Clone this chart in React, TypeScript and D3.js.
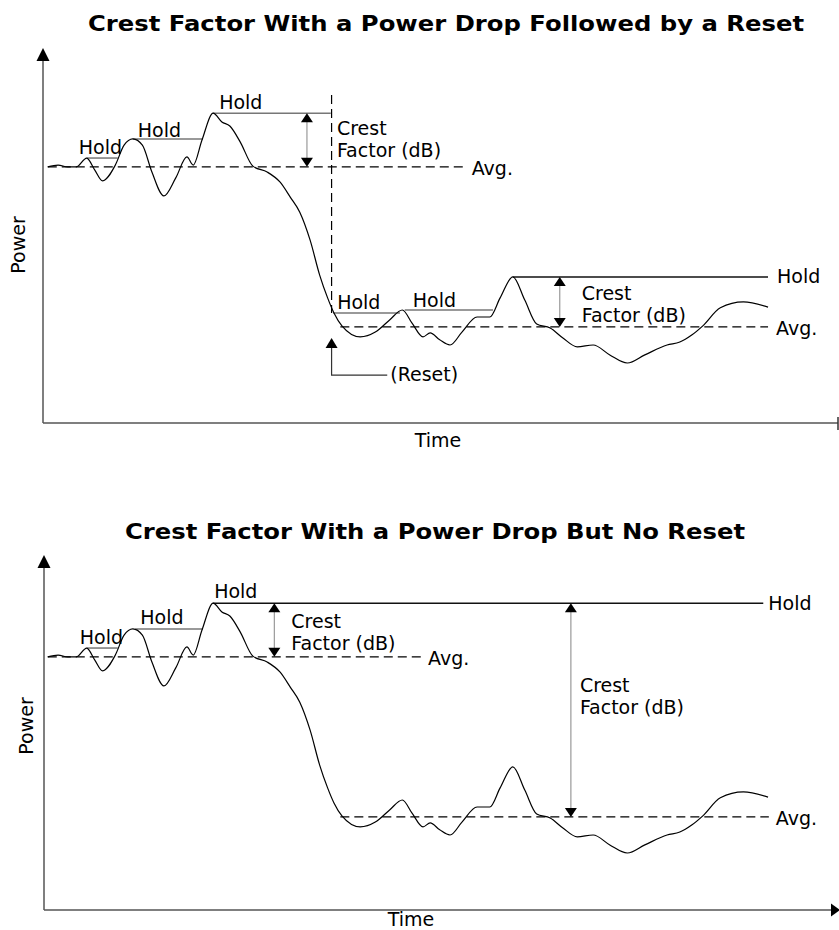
import * as d3 from "d3";

// waveform samples (time units 0-100, power units 0-100)
const waveTime = [
  0.6, 1.9, 3.1, 4.2, 5.5, 6.5, 7.5, 9.1, 10.2, 11.3, 12.5, 13.7, 15.2, 16.7,
  18.1, 18.9, 20.0, 21.4, 22.5, 23.5, 24.8, 26.4, 28.2, 29.8, 31.1, 32.3, 33.6,
  34.8, 35.8, 36.6, 37.6, 39.9, 41.8, 43.6, 45.2, 46.4, 47.8, 48.7, 49.9, 51.2,
  52.7, 54.6, 56.2, 57.5, 59.1, 60.6, 62.1, 63.8, 65.4, 67.2, 69.2, 71.3, 73.5,
  75.7, 78.5, 80.1, 81.6, 83.0, 85.2, 88.1, 91.2,
];
const wavePower = [
  69.6, 70.1, 69.6, 69.6, 72.0, 68.8, 65.8, 70.1, 75.5, 77.2, 75.5, 68.2, 61.7,
  66.6, 72.3, 70.1, 76.9, 84.2, 81.8, 80.7, 76.4, 69.8, 68.2, 65.5, 61.4, 57.3,
  49.7, 40.2, 34.0, 29.9, 26.4, 23.4, 24.7, 28.0, 30.7, 27.2, 23.4, 24.5, 22.6,
  21.2, 24.7, 28.8, 28.8, 34.0, 39.7, 33.4, 26.9, 25.8, 23.1, 20.7, 21.2, 18.5,
  16.3, 18.5, 21.2, 22.0, 23.9, 26.4, 31.3, 32.9, 31.5,
];

const avgHigh = 69.6;
const avgLow = 26.1;

// chart 1: with reset
const topHoldStart = [5.5, 11.3, 21.4, 36.5, 45.5, 59.1];
const topHoldEnd = [9.4, 20.1, 36.2, 44.9, 56.6, 91.2];
const topHoldLevel = [72.0, 77.2, 84.2, 29.9, 30.7, 39.7];
const topAvgFrom = [0.6, 37.4];
const topAvgTo = [53.3, 91.2];
const topAvgLevel = [avgHigh, avgLow];
const topCrestTime = [33.2, 65.0];
const topCrestHi = [84.2, 39.7];
const topCrestLo = [avgHigh, avgLow];
const resetTime = 36.3;
const resetLineTop = 89.1;
const resetArrowTip = 23.1;
const resetElbow = 13.0;
const resetLabelTime = 43.3;

// chart 2: no reset
const botHoldStart = [5.5, 11.6, 21.4];
const botHoldEnd = [9.4, 20.1, 90.6];
const botHoldLevel = [72.0, 77.2, 84.2];
const botAvgFrom = [0.6, 37.4];
const botAvgTo = [47.8, 91.3];
const botAvgLevel = [avgHigh, avgLow];
const botCrestTime = [29.1, 66.4];
const botCrestHi = [84.2, 84.2];
const botCrestLo = [avgHigh, avgLow];

const FONT = "DejaVu Sans";
const FS = 19;

const x = d3.scaleLinear([0, 100], [43, 838]);

const charts = [
  {
    title: "Crest Factor With a Power Drop Followed by a Reset",
    titleX: 88,
    titleY: 31,
    titleLen: 716,
    yRange: [423, 55],
    axisX: 43,
    axisY: 423,
    axisTop: 48,
    powerX: 25,
    powerY: 245,
    timeX: 438,
    timeY: 447,
    endArrow: false,
    hold: { start: topHoldStart, end: topHoldEnd, level: topHoldLevel },
    holdLabels: [
      { i: 0, at: "start", dx: -8, dy: -4 },
      { i: 1, at: "start", dx: 5, dy: -2 },
      { i: 2, at: "start", dx: 6, dy: -4 },
      { i: 3, at: "start", dx: 4, dy: -4 },
      { i: 4, at: "start", dx: 8, dy: -3 },
      { i: 5, at: "end", dx: 9, dy: 6 },
    ],
    avg: { from: topAvgFrom, to: topAvgTo, level: topAvgLevel },
    avgLabelDx: [5, 8],
    crest: { time: topCrestTime, hi: topCrestHi, lo: topCrestLo },
    crestLabels: [
      { dx: 30, dy: 22 },
      { dx: 22, dy: 23 },
    ],
    reset: true,
  },
  {
    title: "Crest Factor With a Power Drop But No Reset",
    titleX: 125,
    titleY: 539,
    titleLen: 620,
    yRange: [913, 545],
    axisX: 44,
    axisY: 910,
    axisTop: 555,
    powerX: 33,
    powerY: 726,
    timeX: 411,
    timeY: 926,
    endArrow: true,
    hold: { start: botHoldStart, end: botHoldEnd, level: botHoldLevel },
    holdLabels: [
      { i: 0, at: "start", dx: -7, dy: -4 },
      { i: 1, at: "start", dx: 5, dy: -5 },
      { i: 2, at: "start", dx: 1, dy: -5 },
      { i: 2, at: "end", dx: 5, dy: 7 },
    ],
    avg: { from: botAvgFrom, to: botAvgTo, level: botAvgLevel },
    avgLabelDx: [5, 7],
    crest: { time: botCrestTime, hi: botCrestHi, lo: botCrestLo },
    crestLabels: [
      { dx: 17, dy: 25 },
      { dx: 9, dy: 89 },
    ],
    reset: false,
  },
];

function triUp(cx: number, tip: number, w = 12, h = 9) {
  return `M${cx},${tip}L${cx - w / 2},${tip + h}L${cx + w / 2},${tip + h}Z`;
}
function triDown(cx: number, tip: number, w = 12, h = 9) {
  return `M${cx},${tip}L${cx - w / 2},${tip - h}L${cx + w / 2},${tip - h}Z`;
}

function Chart({ c }: { c: (typeof charts)[number] }) {
  const y = d3.scaleLinear([0, 100], c.yRange);
  const line = d3
    .line<number>()
    .x((_, i) => x(waveTime[i]))
    .y((_, i) => y(wavePower[i]))
    .curve(d3.curveMonotoneX);
  const nHold = c.hold.start.length;
  const txt = { fontFamily: FONT, fontSize: FS, fill: "#000" } as const;

  return (
    <g>
      <text
        x={c.titleX}
        y={c.titleY}
        textLength={c.titleLen}
        lengthAdjust="spacingAndGlyphs"
        fontFamily={FONT}
        fontWeight="bold"
        fontSize={21}
      >
        {c.title}
      </text>

      {/* axes */}
      <line x1={c.axisX} x2={c.axisX} y1={c.axisTop + 10} y2={c.axisY} stroke="#555" strokeWidth={1.5} />
      <path d={triUp(c.axisX, c.axisTop, 13, 13)} fill="#000" />
      <line x1={c.axisX} x2={c.endArrow ? 832 : 838} y1={c.axisY} y2={c.axisY} stroke="#555" strokeWidth={1.5} />
      {c.endArrow ? (
        <path d={`M840,${c.axisY}L831,${c.axisY - 6.5}L831,${c.axisY + 6.5}Z`} fill="#000" />
      ) : (
        <line x1={838} x2={838} y1={c.axisY - 6} y2={c.axisY + 7} stroke="#333" strokeWidth={1.5} />
      )}
      <text {...txt} transform={`translate(${c.powerX},${c.powerY}) rotate(-90)`} textAnchor="middle">
        Power
      </text>
      <text {...txt} x={c.timeX} y={c.timeY} textAnchor="middle">
        Time
      </text>

      {/* average lines */}
      {c.avg.level.map((lv, i) => (
        <g key={"a" + i}>
          <line
            x1={x(c.avg.from[i])}
            x2={x(c.avg.to[i])}
            y1={y(lv)}
            y2={y(lv)}
            stroke="#000"
            strokeWidth={1.2}
            strokeDasharray="9,5"
          />
          <text {...txt} x={x(c.avg.to[i]) + c.avgLabelDx[i]} y={y(lv) + 8}>
            Avg.
          </text>
        </g>
      ))}

      {/* reset marker */}
      {c.reset && (
        <g>
          <line
            x1={x(resetTime)}
            x2={x(resetTime)}
            y1={y(resetLineTop)}
            y2={y(topHoldLevel[3])}
            stroke="#000"
            strokeWidth={1.2}
            strokeDasharray="9,5"
          />
          <path d={triUp(x(resetTime), y(resetArrowTip), 12, 10)} fill="#000" />
          <polyline
            points={`${x(resetTime)},${y(resetArrowTip) + 10} ${x(resetTime)},${y(resetElbow)} ${x(resetLabelTime)},${y(resetElbow)}`}
            fill="none"
            stroke="#333"
            strokeWidth={1.2}
          />
          <text {...txt} x={x(resetLabelTime) + 3} y={y(resetElbow) + 6}>
            (Reset)
          </text>
        </g>
      )}

      {/* hold lines */}
      {c.hold.level.map((lv, i) => (
        <line
          key={"h" + i}
          x1={x(c.hold.start[i])}
          x2={x(c.hold.end[i])}
          y1={y(lv)}
          y2={y(lv)}
          stroke={i === nHold - 1 ? "#111" : "#777"}
          strokeWidth={1.5}
        />
      ))}
      {c.holdLabels.map((h, k) => (
        <text
          key={"hl" + k}
          {...txt}
          x={x(h.at === "start" ? c.hold.start[h.i] : c.hold.end[h.i]) + h.dx}
          y={y(c.hold.level[h.i]) + h.dy}
        >
          Hold
        </text>
      ))}

      {/* crest factor arrows */}
      {c.crest.time.map((t, i) => {
        const cx = x(t);
        const top = y(c.crest.hi[i]);
        const bot = y(c.crest.lo[i]);
        const lab = c.crestLabels[i];
        return (
          <g key={"c" + i}>
            <line x1={cx} x2={cx} y1={top + 8} y2={bot - 8} stroke="#999" strokeWidth={1.2} />
            <path d={triUp(cx, top)} fill="#000" />
            <path d={triDown(cx, bot)} fill="#000" />
            <text {...txt} x={cx + lab.dx} y={top + lab.dy}>
              Crest
            </text>
            <text {...txt} x={cx + lab.dx} y={top + lab.dy + 22}>
              Factor (dB)
            </text>
          </g>
        );
      })}

      {/* waveform */}
      <path d={line(waveTime) ?? ""} fill="none" stroke="#000" strokeWidth={1.2} />
    </g>
  );
}

export default function App() {
  return (
    <svg
      width={839}
      height={930}
      style={{ position: "absolute", left: 0, top: 0, background: "#fff" }}
    >
      {charts.map((c, i) => (
        <Chart key={i} c={c} />
      ))}
    </svg>
  );
}
